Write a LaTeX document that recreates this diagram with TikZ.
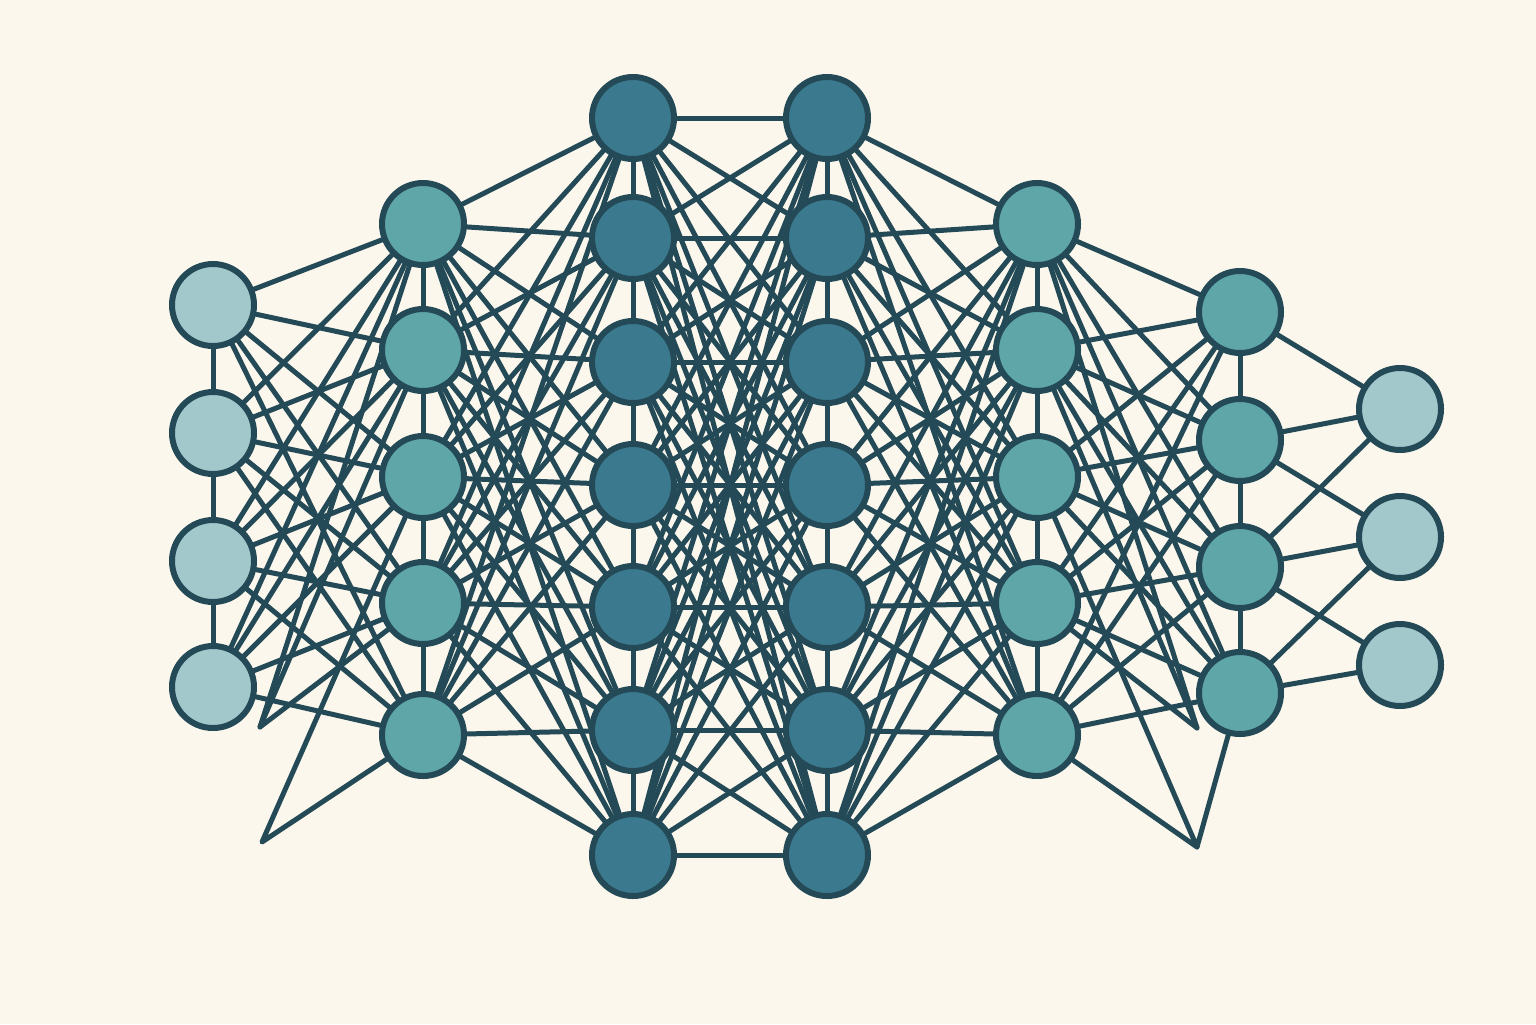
\documentclass[tikz,border=0pt]{standalone}

\definecolor{paper}{HTML}{FBF7EC}
\definecolor{wire}{HTML}{244A57}
\definecolor{inputfill}{HTML}{A3C8CC}
\definecolor{hiddenfill}{HTML}{5FA6A8}
\definecolor{deepfill}{HTML}{3B7A8E}

\pgfdeclarelayer{paperlayer}
\pgfdeclarelayer{wirelayer}
\pgfsetlayers{paperlayer,wirelayer,main}

\begin{document}
\begin{tikzpicture}[
    neuron/.style={circle, draw=wire, line width=0.06cm, minimum size=0.82cm, inner sep=0pt},
    link/.style={wire, line width=0.05cm, line cap=round, line join=round}
  ]
  \begin{pgfonlayer}{paperlayer}
    \fill[paper] (0,0) rectangle (15.36,-10.24);
  \end{pgfonlayer}
  \useasboundingbox (0,0) rectangle (15.36,-10.24);

        % Input layer
    \node[neuron, fill=inputfill] (in1) at (2.13,-3.05) {};
    \node[neuron, fill=inputfill] (in2) at (2.13,-4.33) {};
    \node[neuron, fill=inputfill] (in3) at (2.13,-5.61) {};
    \node[neuron, fill=inputfill] (in4) at (2.13,-6.87) {};

        % First hidden layer
    \node[neuron, fill=hiddenfill] (ha1) at (4.23,-2.24) {};
    \node[neuron, fill=hiddenfill] (ha2) at (4.23,-3.50) {};
    \node[neuron, fill=hiddenfill] (ha3) at (4.23,-4.77) {};
    \node[neuron, fill=hiddenfill] (ha4) at (4.23,-6.03) {};
    \node[neuron, fill=hiddenfill] (ha5) at (4.23,-7.35) {};

        % Two deep layers
    \node[neuron, fill=deepfill] (hb1) at (6.33,-1.18) {};
    \node[neuron, fill=deepfill] (hb2) at (6.33,-2.38) {};
    \node[neuron, fill=deepfill] (hb3) at (6.33,-3.62) {};
    \node[neuron, fill=deepfill] (hb4) at (6.33,-4.85) {};
    \node[neuron, fill=deepfill] (hb5) at (6.33,-6.07) {};
    \node[neuron, fill=deepfill] (hb6) at (6.33,-7.30) {};
    \node[neuron, fill=deepfill] (hb7) at (6.33,-8.55) {};

    \node[neuron, fill=deepfill] (hc1) at (8.27,-1.18) {};
    \node[neuron, fill=deepfill] (hc2) at (8.27,-2.38) {};
    \node[neuron, fill=deepfill] (hc3) at (8.27,-3.62) {};
    \node[neuron, fill=deepfill] (hc4) at (8.27,-4.85) {};
    \node[neuron, fill=deepfill] (hc5) at (8.27,-6.07) {};
    \node[neuron, fill=deepfill] (hc6) at (8.27,-7.30) {};
    \node[neuron, fill=deepfill] (hc7) at (8.27,-8.55) {};

        % Last hidden layers
    \node[neuron, fill=hiddenfill] (hd1) at (10.37,-2.24) {};
    \node[neuron, fill=hiddenfill] (hd2) at (10.37,-3.50) {};
    \node[neuron, fill=hiddenfill] (hd3) at (10.37,-4.77) {};
    \node[neuron, fill=hiddenfill] (hd4) at (10.37,-6.03) {};
    \node[neuron, fill=hiddenfill] (hd5) at (10.37,-7.35) {};

    \node[neuron, fill=hiddenfill] (he1) at (12.40,-3.12) {};
    \node[neuron, fill=hiddenfill] (he2) at (12.40,-4.40) {};
    \node[neuron, fill=hiddenfill] (he3) at (12.40,-5.67) {};
    \node[neuron, fill=hiddenfill] (he4) at (12.40,-6.93) {};

        % Output layer
    \node[neuron, fill=inputfill] (out1) at (14.00,-4.09) {};
    \node[neuron, fill=inputfill] (out2) at (14.00,-5.37) {};
    \node[neuron, fill=inputfill] (out3) at (14.00,-6.65) {};

        % Loose line ends
    \coordinate (la) at (2.60,-7.27);
    \coordinate (lb) at (2.62,-8.42);
    \coordinate (ra) at (11.97,-7.28);
    \coordinate (rb) at (11.97,-8.47);

  \begin{pgfonlayer}{wirelayer}
        % Draw the edges between layers
    \foreach \i in {1,...,4}
      \foreach \j in {1,...,5}
        \draw[link] (in\i) -- (ha\j);
    \foreach \i in {1,...,5}
      \foreach \j in {1,...,7}
        \draw[link] (ha\i) -- (hb\j);
    \foreach \i in {1,...,7}
      \foreach \j in {1,...,7}
        \draw[link] (hb\i) -- (hc\j);
    \foreach \i in {1,...,7}
      \foreach \j in {1,...,5}
        \draw[link] (hc\i) -- (hd\j);
    \foreach \i in {1,...,5}
      \foreach \j in {1,...,4}
        \draw[link] (hd\i) -- (he\j);
    \foreach \i/\j in {1/1, 2/1, 2/2, 3/1, 3/2, 3/3, 4/2, 4/3}
      \draw[link] (he\i) -- (out\j);

        % Draw the edges inside each layer
    \foreach \i/\j in {1/2, 2/3, 3/4}
      \draw[link] (in\i) -- (in\j);
    \foreach \i/\j in {1/2, 2/3, 3/4, 4/5} {
      \draw[link] (ha\i) -- (ha\j);
      \draw[link] (hd\i) -- (hd\j);
    }
    \foreach \i/\j in {1/2, 2/3, 3/4, 4/5, 5/6, 6/7} {
      \draw[link] (hb\i) -- (hb\j);
      \draw[link] (hc\i) -- (hc\j);
    }
    \foreach \i/\j in {1/2, 2/3, 3/4}
      \draw[link] (he\i) -- (he\j);

        % Draw the loose ends
    \draw[link] (ha1) -- (la) -- (ha4);
    \draw[link] (ha2) -- (la);
    \draw[link] (ha3) -- (lb) -- (ha5);
    \draw[link] (hd1) -- (ra) -- (hd4);
    \draw[link] (hd2) -- (ra);
    \draw[link] (hd3) -- (rb) -- (he4);
    \draw[link] (hd5) -- (rb);
  \end{pgfonlayer}
\end{tikzpicture}
\end{document}
